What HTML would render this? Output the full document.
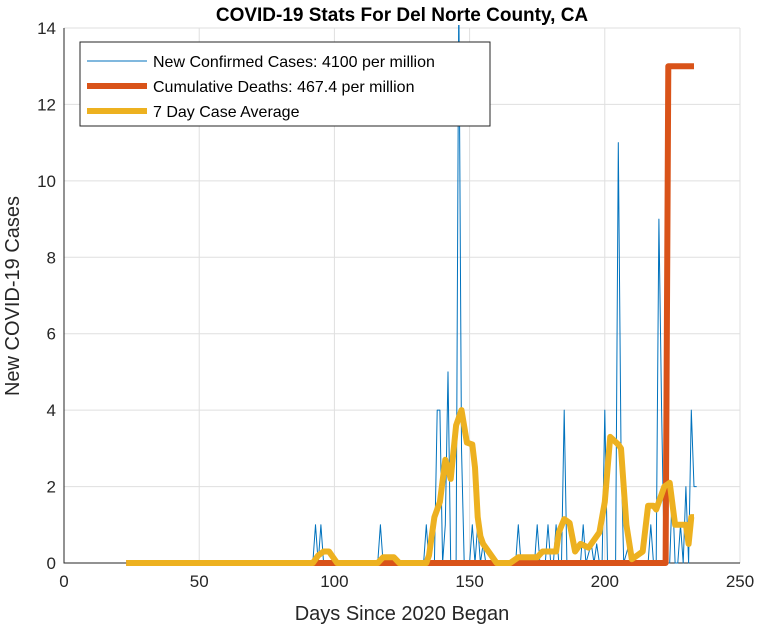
<!DOCTYPE html>
<html><head><meta charset="utf-8"><style>
body{margin:0;background:#fff;font-family:"Liberation Sans",Arial,sans-serif}
svg{display:block}
</style></head><body>
<svg id="chart" width="761" height="630"></svg>
<script>
const caseDays=[23,92,93,94,95,96,116,117,118,133,134,135,137,138,139,140,141,142,143,145,146,147,148,150,151,152,153,154,155,156,167,168,169,174,175,176,178,179,180,181,182,183,184,185,186,191,192,193,195,196,197,198,199,200,201,204,205,206,207,209,210,211,216,217,218,219,220,221,222,224,225,226,227,228,229,230,231,232,233,234];
const caseVals=[0,0,1,0,1,0,0,1,0,0,1,0,0,4,4,0,1,5,0,0,15,3,0,0,1,0,1,0,0.5,0,0,1,0,0,1,0,0,1,0,0,1,0,0,4,0,0,1,0,0.5,0,0.5,0,0,4,0,0,11,3,0,0.5,0,0,0,1,0,0,9,4,0,0,2,0,0,1,0,2,0,4,2,2];
const avgDays=[23,92,94,96,98,100,101,116,118,122,124,134,135,137,139,141,143,145,147,149,151,152,153,154,155,157,160,165,168,175,177,182,183,185,187,189,191,194,198,200,202,205,206,208,210,212,214,216,218,219,222,224,226,228,230,231,232,233];
const avgVals=[0,0,0.2,0.3,0.3,0.1,0,0,0.15,0.15,0,0,0.2,1.2,1.6,2.7,2.2,3.6,4.0,3.15,3.1,2.5,1.2,0.7,0.5,0.3,0,0,0.15,0.15,0.3,0.3,0.8,1.15,1.05,0.3,0.5,0.4,0.8,1.6,3.3,3.1,3.0,1,0.1,0.2,0.3,1.5,1.5,1.4,2.0,2.1,1.0,1.0,1.0,0.5,1.2,1.2];
const deathDays=[23,222.5,223.5,233];
const deathVals=[0,0,13,13];
const xTicks=[0,50,100,150,200,250];
const yTicks=[0,2,4,6,8,10,12,14];

const NS="http://www.w3.org/2000/svg";
const svg=document.getElementById('chart');
const L=64,R=740,T=28,B=563;
const X=d=>L+(d/250)*(R-L);
const Y=v=>B-(v/14)*(B-T);
function mk(tag,attrs,parent){const e=document.createElementNS(NS,tag);for(const k in attrs)e.setAttribute(k,attrs[k]);(parent||svg).appendChild(e);return e;}
const clip=mk('clipPath',{id:'pc'});mk('rect',{x:L,y:T-3,width:R-L,height:B-T+6},clip);
for(const t of xTicks){
 const g=mk('line',{x1:X(t),x2:X(t),y1:T,y2:B,stroke:'#dfdfdf','stroke-width':1});
 
 
 const tx=mk('text',{x:X(t),y:B+24,'text-anchor':'middle','font-size':17,fill:'#262626'});tx.textContent=t;
 
 
}
for(const t of yTicks){
 const g=mk('line',{x1:L,x2:R,y1:Y(t),y2:Y(t),stroke:'#dfdfdf','stroke-width':1});
 
 
 const tx=mk('text',{x:L-8,y:Y(t)+6,'text-anchor':'end','font-size':17,fill:'#262626'});tx.textContent=t;
 
 
}
const ax=mk('path',{d:`M${L},${T}V${B}H${R}`,fill:'none',stroke:'#262626','stroke-width':1});


function line(ds,vs,color,w,name){
 const p=mk('path',{d:ds.map((d,i)=>(i?'L':'M')+X(d).toFixed(1)+','+Y(vs[i]).toFixed(1)).join(''),fill:'none',stroke:color,'stroke-width':w,'stroke-linejoin':'round','clip-path':'url(#pc)'});
 
 
}
line(caseDays,caseVals,'#0072bd',1,'new-cases-line');
line(deathDays,deathVals,'#d95319',6,'cumulative-deaths-line');
line(avgDays,avgVals,'#edb120',6,'seven-day-average-line');
const title=mk('text',{x:402,y:21,'text-anchor':'middle','font-size':19,'font-weight':'bold',fill:'#000'});title.textContent='COVID-19 Stats For Del Norte County, CA';


const xl=mk('text',{x:402,y:620,'text-anchor':'middle','font-size':20,fill:'#262626'});xl.textContent='Days Since 2020 Began';


const yl=mk('text',{x:0,y:0,'text-anchor':'middle','font-size':20,fill:'#262626',transform:'translate(19,296) rotate(-90)'});yl.textContent='New COVID-19 Cases';


const lg=mk('g',{});


mk('rect',{x:80,y:42,width:410,height:84,fill:'#fff',stroke:'#262626','stroke-width':1},lg);
const items=[['New Confirmed Cases: 4100 per million','#0072bd',1],['Cumulative Deaths: 467.4 per million','#d95319',6],['7 Day Case Average','#edb120',6]];
items.forEach((it,i)=>{
 const y=61+i*25;
 mk('line',{x1:87,x2:147,y1:y,y2:y,stroke:it[1],'stroke-width':it[2]},lg);
 const t=mk('text',{x:153,y:y+6,'font-size':16,fill:'#000'},lg);t.textContent=it[0];
 
 
});
</script>
</body></html>
